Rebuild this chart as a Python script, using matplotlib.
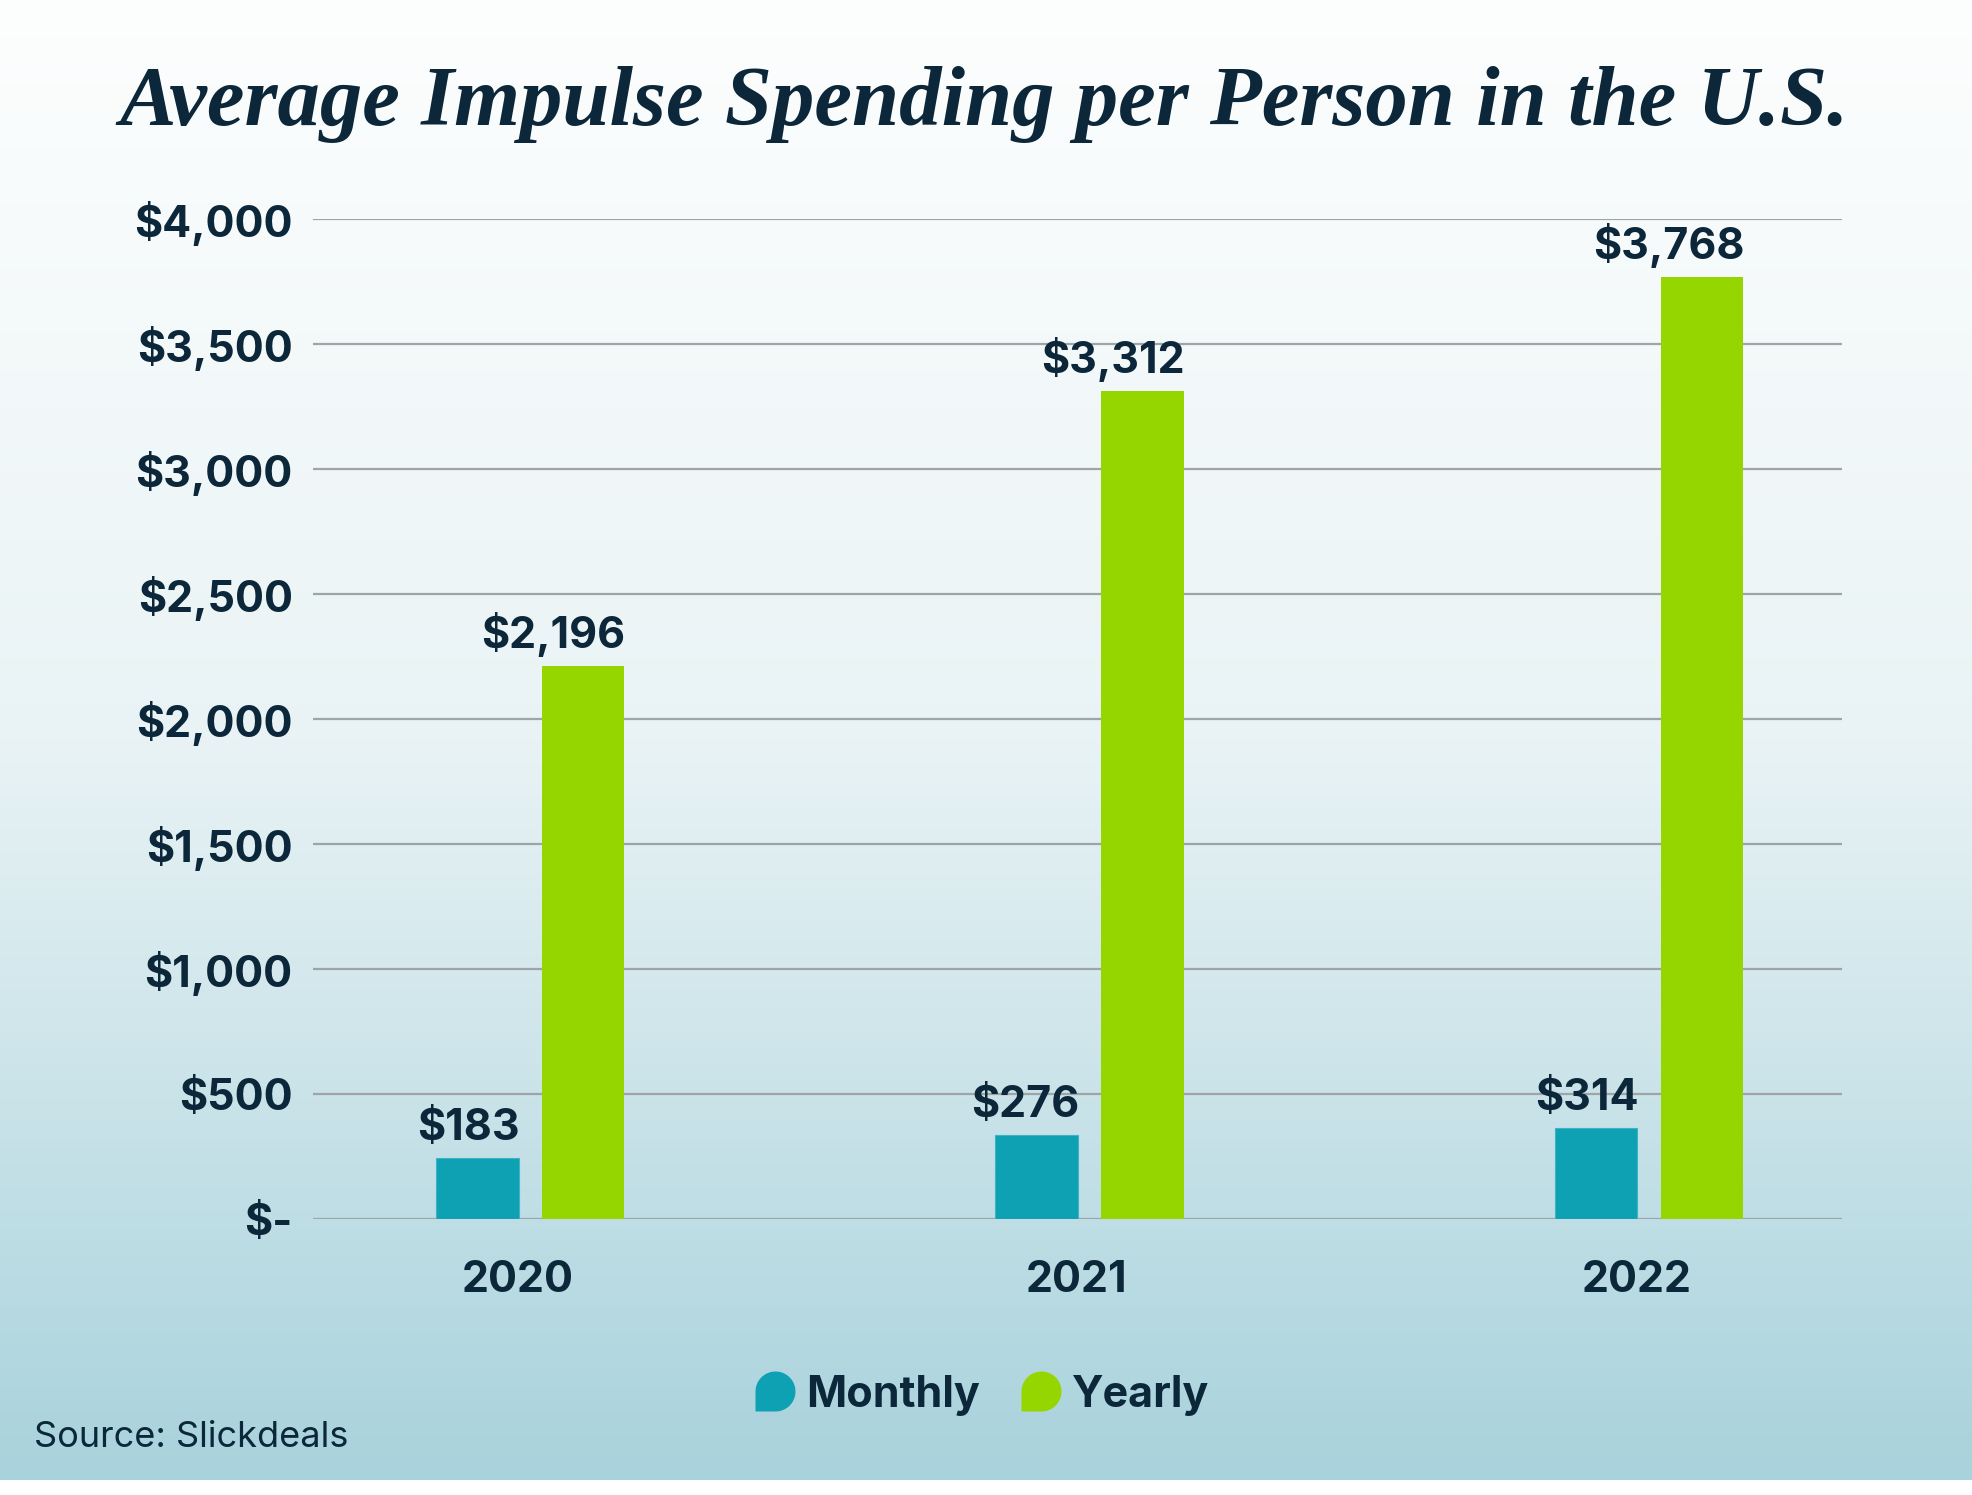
import numpy as np
import matplotlib
matplotlib.use("Agg")
import matplotlib.pyplot as plt
from matplotlib.path import Path
from matplotlib.lines import Line2D
from matplotlib.colors import LinearSegmentedColormap

# ---------------- data ----------------
years = ["2020", "2021", "2022"]
series_names = ["Monthly", "Yearly"]
monthly_bar_heights = [242, 333, 362]      # bar heights as drawn in the picture
yearly_bar_heights = [2213, 3313, 3768]
monthly_labels = ["$183", "$276", "$314"]
yearly_labels = ["$2,196", "$3,312", "$3,768"]
y_ticks = [0, 500, 1000, 1500, 2000, 2500, 3000, 3500, 4000]
y_tick_labels = ["$-", "$500", "$1,000", "$1,500", "$2,000", "$2,500",
                 "$3,000", "$3,500", "$4,000"]
title = "Average Impulse Spending per Person in the U.S."
source = "Source: Slickdeals"

# ---------------- style ----------------
NAVY = "#0b2739"
TEAL = "#0ea1b4"
GREEN = "#95d600"
GRID = "#9ea5a8"
SANS = ["Inter", "Lato", "DejaVu Sans"]

W, H = 1972, 1495
fig = plt.figure(figsize=(W / 100, H / 100), dpi=100)
fig.patch.set_facecolor("white")

# background gradient (ends a little above the bottom edge)
bg = fig.add_axes([0, 15 / H, 1, 1 - 15 / H], zorder=-10)
cmap = LinearSegmentedColormap.from_list("bg", ["#fdfefe", "#e9f3f5", "#a8d2dc"], N=512)
grad = np.linspace(0, 1, 512).reshape(-1, 1)
bg.imshow(grad, aspect="auto", cmap=cmap, extent=[0, 1, 0, 1], origin="upper")
bg.set_axis_off()

# main axes
left, right = 313.3 / W, 1841.7 / W
bottom, top = 1 - 1218.7 / H, 1 - 219.3 / H
ax = fig.add_axes([left, bottom, right - left, top - bottom], zorder=1)
ax.set_facecolor("none")

x = np.arange(len(years))
bw = 0.1477
off_m, off_y = -0.072, 0.117

bars_m = ax.bar(x + off_m, monthly_bar_heights, width=bw, color=TEAL,
                edgecolor="#3db3c3", linewidth=0.8, zorder=3, label=series_names[0])
bars_y = ax.bar(x + off_y, yearly_bar_heights, width=bw, color=GREEN,
                edgecolor="none", zorder=3, label=series_names[1])

for bars, labels in ((bars_m, monthly_labels), (bars_y, yearly_labels)):
    for b, lab in zip(bars, labels):
        ax.annotate(lab, xy=(b.get_x() + b.get_width(), b.get_height()),
                    xytext=(1, 13), textcoords="offset points",
                    ha="right", va="baseline", fontsize=31, fontweight="bold",
                    family=SANS, color=NAVY, zorder=4)

ax.set_xlim(-0.365, 2.367)
ax.set_ylim(0, 4000)
ax.set_yticks(y_ticks)
ax.set_yticklabels(y_tick_labels)
ax.set_xticks(x)
ax.set_xticklabels(years)
ax.tick_params(axis="both", length=0, labelcolor=NAVY, labelsize=31)
ax.tick_params(axis="y", pad=14.8)
ax.tick_params(axis="x", pad=29.5)
for lab in ax.get_xticklabels() + ax.get_yticklabels():
    lab.set_family(SANS)
    lab.set_fontweight("bold")

ax.grid(axis="y", color=GRID, linewidth=1.6, zorder=0)
ax.set_axisbelow(True)
for s in ax.spines.values():
    s.set_visible(False)

# title
fig.text(0.499, 1 - 125 / H, title, ha="center", va="baseline",
         family=["Liberation Serif", "DejaVu Serif"], style="italic",
         fontweight="bold", fontsize=61, color=NAVY)

# source
fig.text(34 / W, 1 - 1446.7 / H, source, ha="left", va="baseline",
         family=SANS, fontsize=26, color=NAVY)

# legend with custom leaf-shaped markers
t = np.deg2rad(np.linspace(-90, 180, 60))
verts = [(-1, 0), (-1, -1), (0, -1)] + list(zip(np.cos(t), np.sin(t))) + [(-1, 0)]
codes = [Path.MOVETO] + [Path.LINETO] * (len(verts) - 2) + [Path.CLOSEPOLY]
leaf = Path(verts, codes)
handles = [
    Line2D([], [], linestyle="none", marker=leaf, markersize=28.8,
           markerfacecolor=TEAL, markeredgewidth=0, label=series_names[0]),
    Line2D([], [], linestyle="none", marker=leaf, markersize=28.8,
           markerfacecolor=GREEN, markeredgewidth=0, label=series_names[1]),
]
leg = fig.legend(handles=handles, loc="center", bbox_to_anchor=(0.4984, 1 - 1395 / H),
                 ncol=2, frameon=False, handlelength=0.87, handletextpad=0.28,
                 columnspacing=1.0, borderaxespad=0,
                 prop=dict(family=SANS, weight="bold", size=31))
for txt in leg.get_texts():
    txt.set_color(NAVY)

fig.savefig("out.png", dpi=100)
